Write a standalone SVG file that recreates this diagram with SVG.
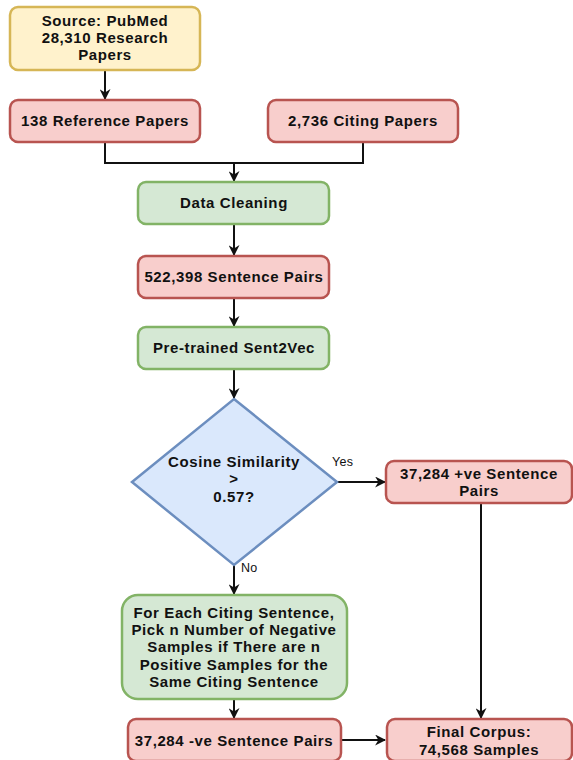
<svg xmlns="http://www.w3.org/2000/svg" width="573" height="760" viewBox="0 0 573 760">
<style>
.t{font-family:"Liberation Sans",Arial,sans-serif;font-weight:bold;font-size:15px;letter-spacing:0.6px;fill:#111;text-anchor:middle}
.l{font-family:"Liberation Sans",Arial,sans-serif;font-size:12.5px;fill:#111;letter-spacing:0.3px}
.y{fill:#fff2cc;stroke:#d6b656;stroke-width:2.5}
.r{fill:#f8cecc;stroke:#b85450;stroke-width:2.5}
.g{fill:#d5e8d4;stroke:#82b366;stroke-width:2.5}
.b{fill:#dae8fc;stroke:#6c8ebf;stroke-width:2.5}
.c{fill:none;stroke:#111;stroke-width:2}
</style>
<defs>
<marker id="a" viewBox="0 0 10 10" refX="9" refY="5" markerWidth="5.5" markerHeight="5.5" orient="auto" markerUnits="strokeWidth">
<path d="M0,0 L10,5 L0,10 L3,5 Z" fill="#111"/>
</marker>
</defs>
<g id="connectors">
<path class="c" d="M105,70 V99" marker-end="url(#a)"/>
<path class="c" d="M105,142 V163 H363 V142"/>
<path class="c" d="M234,163 V181" marker-end="url(#a)"/>
<path class="c" d="M234,224 V255" marker-end="url(#a)"/>
<path class="c" d="M234,298 V326" marker-end="url(#a)"/>
<path class="c" d="M234,369 V398" marker-end="url(#a)"/>
<path class="c" d="M337,482 H385" marker-end="url(#a)"/>
<path class="c" d="M234,565 V594" marker-end="url(#a)"/>
<path class="c" d="M481,503 V718" marker-end="url(#a)"/>
<path class="c" d="M234,699 V718" marker-end="url(#a)"/>
<path class="c" d="M341,740 H385" marker-end="url(#a)"/>
<text class="l" x="332" y="466">Yes</text>
<text class="l" x="241" y="572">No</text>
</g>
<g id="source">
<rect class="y" x="10" y="7" width="190" height="63" rx="8"/>
<text class="t" x="105" y="26">Source: PubMed</text>
<text class="t" x="105" y="43">28,310 Research</text>
<text class="t" x="105" y="60">Papers</text>
</g>
<g id="reference">
<rect class="r" x="10" y="100" width="190" height="42" rx="8"/>
<text class="t" x="105" y="126">138 Reference Papers</text>
</g>
<g id="citing">
<rect class="r" x="268" y="100" width="190" height="42" rx="8"/>
<text class="t" x="363" y="126">2,736 Citing Papers</text>
</g>
<g id="cleaning">
<rect class="g" x="138" y="182" width="191" height="42" rx="8"/>
<text class="t" x="234" y="208">Data Cleaning</text>
</g>
<g id="pairs">
<rect class="r" x="138" y="256" width="191" height="42" rx="8"/>
<text class="t" x="234" y="282">522,398 Sentence Pairs</text>
</g>
<g id="sent2vec">
<rect class="g" x="138" y="327" width="191" height="42" rx="8"/>
<text class="t" x="234" y="353">Pre-trained Sent2Vec</text>
</g>
<g id="decision">
<path class="b" d="M234,399 L337,482 L234,565 L132,482 Z"/>
<text class="t" x="234" y="467">Cosine Similarity</text>
<text class="t" x="234" y="484">&gt;</text>
<text class="t" x="234" y="502">0.57?</text>
</g>
<g id="positive">
<rect class="r" x="386" y="461" width="186" height="42" rx="8"/>
<text class="t" x="479" y="479">37,284 +ve Sentence</text>
<text class="t" x="479" y="496">Pairs</text>
</g>
<g id="negsample">
<rect class="g" x="122" y="595" width="225" height="104" rx="16"/>
<text class="t" x="234" y="618">For Each Citing Sentence,</text>
<text class="t" x="234" y="635">Pick n Number of Negative</text>
<text class="t" x="234" y="652">Samples if There are n</text>
<text class="t" x="234" y="670">Positive Samples for the</text>
<text class="t" x="234" y="687">Same Citing Sentence</text>
</g>
<g id="negative">
<rect class="r" x="128" y="719" width="213" height="42" rx="8"/>
<text class="t" x="234" y="746">37,284 -ve Sentence Pairs</text>
</g>
<g id="final">
<rect class="r" x="387" y="719" width="185" height="42" rx="8"/>
<text class="t" x="479" y="737">Final Corpus:</text>
<text class="t" x="479" y="755">74,568 Samples</text>
</g>
</svg>
